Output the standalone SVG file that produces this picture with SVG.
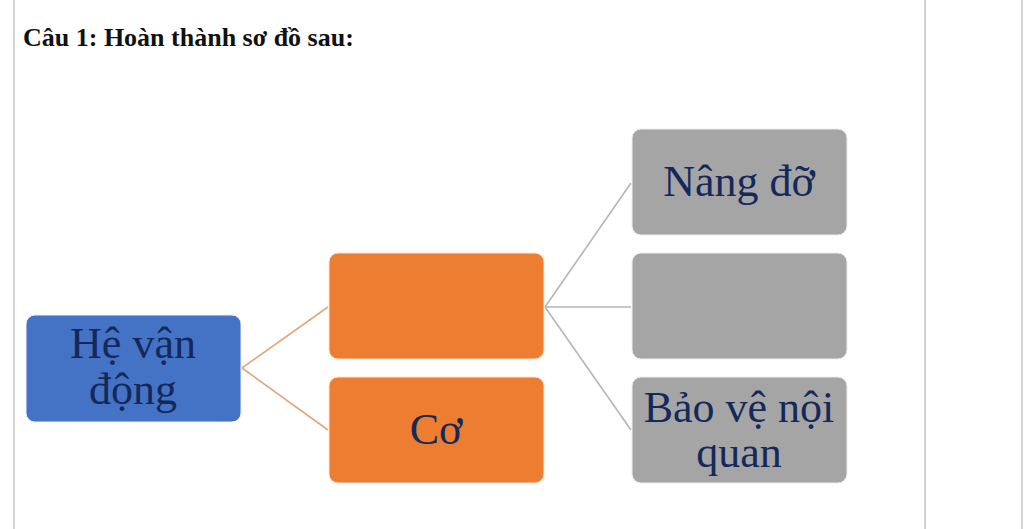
<svg xmlns="http://www.w3.org/2000/svg" width="1024" height="529" viewBox="0 0 1024 529">
<style>
.title{font-family:"Liberation Serif","Times New Roman",serif;font-weight:bold;font-size:26px;fill:#111}
.lbl{font-family:"Liberation Serif","Times New Roman",serif;font-size:44px;fill:#14295a;text-anchor:middle}
.blue{fill:#4472c4;stroke:#e8eefa;stroke-width:1}
.orange{fill:#ed7d31;stroke:#fbe3d3;stroke-width:1}
.gray{fill:#a5a5a5;stroke:#ededed;stroke-width:1}
.c1{stroke:#dfa77c;stroke-width:1.6;fill:none}
.c2{stroke:#b5b5b5;stroke-width:1.6;fill:none}
.border{stroke:#c4c4c4;stroke-width:1.5}
</style>
<rect width="1024" height="529" fill="#ffffff"/>
<g id="page">
<line class="border" x1="14" y1="0" x2="14" y2="529"/>
<line class="border" x1="925" y1="0" x2="925" y2="529"/>
<line class="border" x1="1022" y1="0" x2="1022" y2="529"/>
<text class="title" x="23" y="46">Câu 1: Hoàn thành sơ đồ sau:</text>
</g>
<g id="connectors">
<path class="c1" d="M242 368 L328 307"/>
<path class="c1" d="M242 368 L328 430"/>
<path class="c2" d="M545 307 L631 183"/>
<path class="c2" d="M545 307 L631 307"/>
<path class="c2" d="M545 307 L631 430"/>
</g>
<g id="node-he-van-dong">
<rect class="blue" x="26" y="315" width="215" height="107" rx="9"/>
<text class="lbl" x="133" y="358">Hệ vận</text>
<text class="lbl" x="133" y="404">động</text>
</g>
<g id="node-blank-orange">
<rect class="orange" x="329" y="253" width="215" height="106" rx="9"/>
</g>
<g id="node-co">
<rect class="orange" x="329" y="377" width="215" height="106" rx="9"/>
<text class="lbl" x="436" y="444">Cơ</text>
</g>
<g id="node-nang-do">
<rect class="gray" x="632" y="129" width="215" height="106" rx="9"/>
<text class="lbl" x="739" y="196">Nâng đỡ</text>
</g>
<g id="node-blank-gray">
<rect class="gray" x="632" y="253" width="215" height="106" rx="9"/>
</g>
<g id="node-bao-ve">
<rect class="gray" x="632" y="377" width="215" height="106" rx="9"/>
<text class="lbl" x="739" y="422">Bảo vệ nội</text>
<text class="lbl" x="739" y="467">quan</text>
</g>
</svg>
